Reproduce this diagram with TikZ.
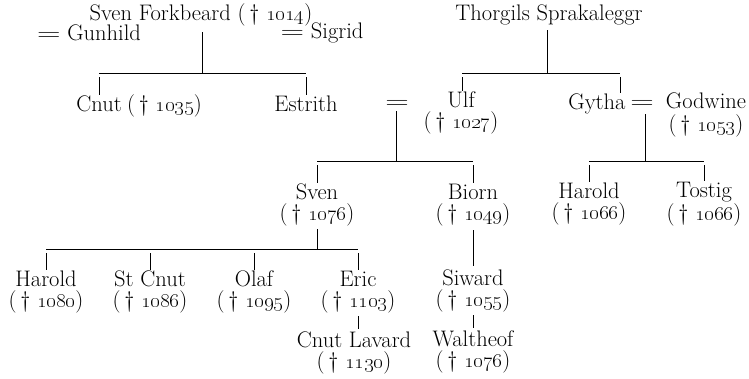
\documentclass[tikz,border=0pt]{standalone}
\usepackage{graphicx}
\newcommand{\eqs}{\scalebox{1.45}[1]{=}}
\newcommand{\dd}[1]{(\,\dag\ \oldstylenums{#1})}
\tikzset{
  person/.style={align=center, inner sep=0pt, font=\fontsize{22.5}{21}\selectfont},
  conn/.style={line width=0.9pt},
  bar/.style={line width=0.8pt},
}
\begin{document}
\begin{tikzpicture}[x=1pt,y=-1pt]
\useasboundingbox (0,0) rectangle (749,378);
% generation 1
\node[person] (sf) at (201,15) {Sven Forkbeard \dd{1014}};
\node[person] (gun) at (89,33) {\eqs\ Gunhild};
\node[person] (sig) at (322,33) {\eqs\ Sigrid};
\node[person] (th) at (549,15) {Thorgils Sprakaleggr};
% generation 2
\node[person] (cnut) at (99,104) {Cnut};
\node[person, anchor=base west] (cnutd) at ([xshift=5pt]cnut.base east) {\dd{1035}};
\node[person] (estr) at (306,104) {Estrith};
\node[person] (m1) at (397,104) {\eqs};
\node[person] (ulf) at (461,113) {Ulf\\\dd{1027}};
\node[person] (gytha) at (597,104) {Gytha};
\node[person] (m2) at (642,104) {\eqs};
\node[person, font=\fontsize{22.5}{23.5}\selectfont] (godw) at (706,115) {Godwine\\\dd{1053}};
% generation 3
\node[person] (sven) at (317,205) {Sven\\\dd{1076}};
\node[person] (biorn) at (473,205) {Biorn\\\dd{1049}};
\node[person] (harg) at (589,204) {Harold\\\dd{1066}};
\node[person] (tost) at (704,204) {Tostig\\\dd{1066}};
% generation 4
\node[person] (har) at (46,292) {Harold\\\dd{1080}};
\node[person] (stc) at (150,292) {St Cnut\\\dd{1086}};
\node[person] (olaf) at (254,292) {Olaf\\\dd{1095}};
\node[person] (eric) at (358,292) {Eric\\\dd{1103}};
\node[person] (siw) at (473,291) {Siward\\\dd{1055}};
% generation 5
\node[person] (cl) at (354,353) {Cnut Lavard\\\dd{1130}};
\node[person] (walt) at (473,352) {Waltheof\\\dd{1076}};
% bar coordinates
\coordinate (sfbar) at (202,73);
\coordinate (sfL) at (99,73);
\coordinate (sfR) at (306,73);
\coordinate (thbar) at (547,73);
\coordinate (thL) at (462,73);
\coordinate (thR) at (620,73);
\coordinate (ubar) at (396,161);
\coordinate (uL) at (317,161);
\coordinate (uR) at (473,161);
\coordinate (gbar) at (645,161);
\coordinate (gL) at (589,161);
\coordinate (gR) at (704,161);
\coordinate (sbar) at (317,249);
\coordinate (sL) at (46,249);
\coordinate (sR) at (358,249);
% Sven Forkbeard family
\draw[conn, shorten <=6pt] (sf.south -| sfbar) -- (sfbar);
\draw[bar] (sfL) -- (sfR);
\draw[conn, shorten <=4pt, shorten >=1pt] (sfL) -- (sfL |- cnut.north);
\draw[conn, shorten <=4pt, shorten >=1pt] (sfR) -- (sfR |- estr.north);
% Thorgils family
\draw[conn, shorten <=5pt] (th.south -| thbar) -- (thbar);
\draw[bar] (thL) -- (thR);
\draw[conn, shorten <=4pt, shorten >=1pt] (thL) -- (thL |- ulf.north);
\draw[conn, shorten <=4pt, shorten >=1pt] (thR) -- (thR |- gytha.north);
% Estrith = Ulf
\draw[conn, shorten <=3pt] (m1.south -| ubar) -- (ubar);
\draw[bar] (uL) -- (uR);
\draw[conn, shorten <=4pt, shorten >=1pt] (uL) -- (uL |- sven.north);
\draw[conn, shorten <=4pt, shorten >=1pt] (uR) -- (uR |- biorn.north);
% Gytha = Godwine
\draw[conn, shorten <=6pt] (m2.south -| gbar) -- (gbar);
\draw[bar] (gL) -- (gR);
\draw[conn, shorten <=4pt, shorten >=1pt] (gL) -- (gL |- harg.north);
\draw[conn, shorten <=4pt, shorten >=1pt] (gR) -- (gR |- tost.north);
% Sven's children
\draw[conn, shorten <=3pt] (sven.south) -- (sbar);
\draw[bar] (sL) -- (sR);
\draw[conn, shorten <=4pt, shorten >=1pt] (sL) -- (sL |- har.north);
\draw[conn, shorten <=4pt, shorten >=1pt] (sL -| stc) -- (stc.north);
\draw[conn, shorten <=4pt, shorten >=1pt] (sL -| olaf) -- (olaf.north);
\draw[conn, shorten <=4pt, shorten >=1pt] (sR) -- (sR |- eric.north);
% single lines
\draw[conn, shorten <=4pt, shorten >=4pt] (biorn.south) -- (siw.north);
\draw[conn, shorten <=3pt, shorten >=3pt] (eric.south) -- (eric.south |- cl.north);
\draw[conn, shorten <=3pt, shorten >=3pt] (siw.south) -- (walt.north);
\end{tikzpicture}
\end{document}
